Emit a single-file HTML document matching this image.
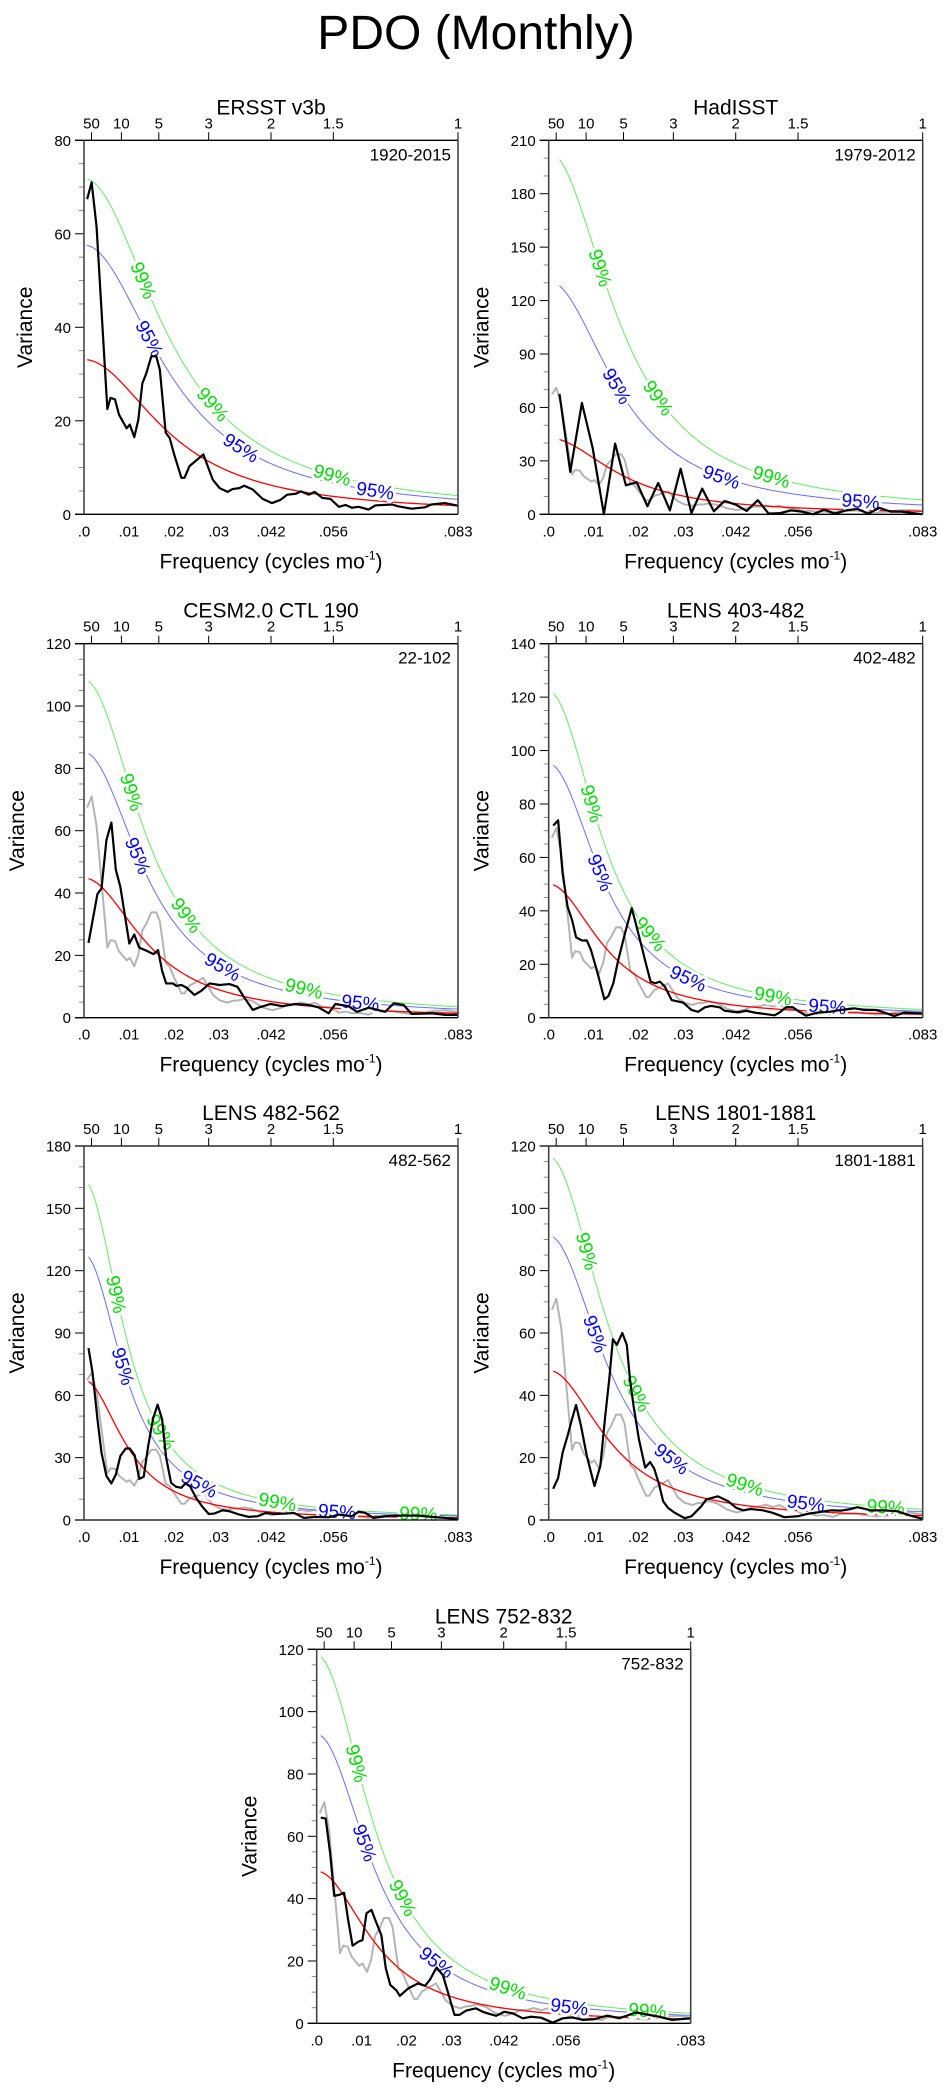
<!DOCTYPE html>
<html><head><meta charset="utf-8">
<style>
html,body{margin:0;padding:0;background:#fff;}
svg{display:block;font-family:"Liberation Sans",Arial,sans-serif;}
</style></head>
<body>
<svg id="fig" width="944" height="2091" viewBox="0 0 944 2091" xmlns="http://www.w3.org/2000/svg">
<rect width="944" height="2091" fill="#fff"/>
<text x="476" y="49" font-size="48" text-anchor="middle">PDO (Monthly)</text>
</svg>
<script>
// ---------- data ----------
const panelTitles = ["ERSST v3b","HadISST","CESM2.0 CTL 190","LENS 403-482","LENS 482-562","LENS 1801-1881","LENS 752-832"];
const panelRanges = ["1920-2015","1979-2012","22-102","402-482","482-562","1801-1881","752-832"];
const yMaxes = [80,210,120,140,180,120,120];
const yMajorSteps = [20,30,20,20,30,20,20];
const yMinorSteps = [5,10,5,5,10,5,5];
const xTickValues = [0,0.01,0.02,0.03,1/24,1/18,1/12];
const xTickLabels = [".0",".01",".02",".03",".042",".056",".083"];
const periodYears = [50,10,5,3,2,1.5,1];
const periodLabels = ["50","10","5","3","2","1.5","1"];
// red-noise (AR1) fit parameters
const redS0 = [33.1,42.8,44.8,50.0,67.3,48.0,48.8];
const redR = [0.882,0.900,0.910,0.920,0.938,0.914,0.917];
const sig95 = [1.74,3.06,1.90,1.90,1.90,1.90,1.90];
const sig99 = [2.17,4.75,2.42,2.44,2.42,2.43,2.42];
const lab99Freqs = [[0.0132,0.0287,0.0553],[0.0115,0.0244,0.0496],[0.0106,0.0228,0.049],[0.0096,0.0226,0.05],[0.0072,0.0172,0.0431,0.0745],[0.0085,0.0196,0.0437,0.0751],[0.0089,0.0192,0.0426,0.0737]];
const lab95Freqs = [[0.0146,0.035,0.0649],[0.0152,0.0385,0.0695],[0.012,0.0309,0.0616],[0.0115,0.0311,0.0621],[0.0087,0.0257,0.0564],[0.0104,0.0274,0.0573],[0.0107,0.0267,0.0563]];

const p1Freq = [.0007,.0017,.0028,.0052,.0059,.0069,.0078,.0095,.0102,.0112,.0121,.013,.0139,.015,.0161,.0169,.0182,.0191,.02,.0217,.0224,.0235,.0266,.0287,.0302,.032,.0331,.0346,.0357,.0376,.0398,.0419,.0438,.0453,.0472,.0483,.0501,.0514,.0531,.0549,.0568,.0583,.0597,.0612,.0634,.0649,.0686,.07,.073,.076,.0774,.0804,.0833];
const p1Var = [67.4,71,61.5,22.5,24.9,24.6,21.3,18.4,19.2,16.5,20.2,28,30.2,33.8,33.8,30.9,17.5,16.3,13.1,7.8,7.8,10.3,12.8,7.4,5.6,4.8,5.4,5.6,6.1,5.3,3.3,2.4,3.1,4.2,4.4,4.9,4.2,4.8,3.5,3.3,1.6,2.0,1.4,1.6,1.0,1.9,2.1,1.7,1.2,1.5,2.1,2.4,1.85];

const p2Freq = [.0024,.0048,.0074,.0098,.0123,.0148,.0172,.0196,.022,.0244,.027,.0294,.0318,.0342,.0368,.0392,.0417,.0441,.0466,.049,.0516,.054,.0564,.0589,.0614,.0638,.0663,.0688,.0712,.0737,.0762,.0786,.0811,.0833];
const p2Var = [67.6,23.8,62.5,37.2,0,39.7,16.3,18,4.5,17.6,2.2,25.6,0.7,14.4,1.7,7.5,5.4,1.9,7.9,0.4,0.7,2.2,1.5,0,2.6,0.4,2.2,3.0,0.4,3.6,1.5,1.5,0.7,0];

const p3Freq = [.001,.003,.0039,.005,.0061,.0071,.0081,.0101,.0112,.0123,.0139,.0155,.0165,.0174,.0183,.0198,.0206,.0217,.0228,.0246,.0261,.028,.0302,.0324,.0342,.0357,.0376,.039,.0416,.0442,.0471,.0501,.0523,.0545,.056,.059,.0608,.0634,.0671,.069,.0712,.073,.0775,.0805,.0833];
const p3Var = [24,39.7,41.5,57,62.6,47.4,42,23.8,26.7,22.5,21.5,20.4,21.7,15.1,11,11,10.2,10.5,9.7,7.3,8.6,11,10.5,10.8,9.9,6.5,2.5,3.3,4.4,3.7,4.4,4.1,3.3,1.4,4.4,3.7,1.9,3.2,1.9,4.6,4.1,1.2,1.4,0.9,0.9];

const p4Freq = [.001,.0021,.0031,.0042,.0052,.0061,.0074,.0085,.0094,.0107,.0124,.0133,.0144,.0155,.017,.0185,.0192,.0209,.0216,.0227,.0237,.0248,.0259,.0274,.0285,.03,.0318,.0333,.0348,.0362,.0381,.0392,.0422,.044,.0459,.0481,.0503,.0514,.0529,.0544,.0555,.0573,.06,.0625,.0651,.0681,.0703,.0729,.0747,.077,.0792,.0833];
const p4Var = [71.9,73.9,54,41.6,36.6,30.1,28.9,28.9,25.4,17.9,6.9,8.1,12.9,21.6,31.6,41,36.6,25.4,20.6,13.5,12.9,13.5,11.6,6.6,6.2,5.6,2.9,2.2,3.9,4.4,3.9,2.6,2.0,2.6,1.9,1.4,0.9,1.9,3.9,3.9,2.6,0.75,1.9,2.2,2.9,3.5,2.9,2.9,2.0,0.6,1.9,1.6];

const p5Freq = [.001,.0019,.003,.0039,.005,.0061,.0071,.0081,.0093,.0102,.0113,.0123,.0133,.0143,.0154,.0164,.0174,.0183,.0194,.0205,.0217,.0226,.0236,.025,.0263,.0278,.029,.0309,.0324,.0346,.0367,.0387,.0405,.0424,.0449,.0468,.049,.0516,.0545,.0568,.0597,.0612,.0627,.0645,.0671,.0701,.0745,.0775,.0833];
const p5Var = [82.7,71,48.5,32.4,21.1,17.6,21.9,30.8,34.4,34.4,31.1,19.8,20.8,35.6,48.9,55.5,48.5,30,17.9,16,15.5,17.6,16.3,10.6,6.6,2.9,3.1,4.7,4.2,2.6,1.5,1.8,3.4,2.9,3.1,3.4,1.0,1.5,1.3,2.6,1.8,4.0,3.4,1.0,1.8,2.1,2.1,1.5,0.5];

const p6Freq = [.001,.0021,.0031,.0042,.0052,.0061,.0072,.0085,.0102,.0115,.0126,.0135,.0143,.0152,.0164,.0174,.0181,.0189,.0201,.0215,.0226,.0235,.0246,.0255,.0266,.0281,.0303,.0318,.034,.0351,.0377,.04,.0418,.0433,.0451,.0477,.0499,.0525,.0555,.0577,.0607,.0629,.0651,.0673,.0688,.0718,.0747,.0777,.0806,.0833];
const p6Var = [10,13.5,21.6,27,32.4,36.9,30.2,20.5,10.9,17.3,33.4,45.3,58,56.2,60,56.2,45.3,36.7,25.9,16.8,18.6,16.5,11.4,6,3.9,2.3,0.6,1.2,4.4,6.6,7.6,6,3.9,3.1,3.5,3.1,2.3,0.9,1.2,2.0,2.6,3.1,3.0,3.5,4.1,3.1,3.1,2.8,1.4,0.4];

const p7Freq = [.0009,.002,.003,.0039,.005,.0061,.007,.008,.0093,.0102,.0111,.0122,.0132,.0144,.0154,.0164,.0178,.0185,.0204,.0226,.0241,.0252,.0267,.0281,.0292,.0307,.0318,.0333,.0355,.037,.0385,.04,.0418,.0437,.0459,.0478,.05,.0526,.0548,.057,.0592,.0618,.0648,.0674,.0696,.0711,.0733,.0763,.0792,.0833];
const p7Var = [66,65.7,54.5,40.9,41.2,41.9,33.2,24.9,26.2,26.7,35.3,36.4,32.6,28.3,17.6,12.3,10.5,8.8,11.2,12.8,12,13.9,17.9,15.5,10.2,2.7,2.7,4.1,4.8,3.7,3.0,2.4,3.7,3.2,1.6,2.1,1.8,0.2,1.6,1.9,1.1,1.3,2.5,1.6,2.7,3.5,2.9,2.1,1.1,1.6];

const seriesFreq = [p1Freq,p2Freq,p3Freq,p4Freq,p5Freq,p6Freq,p7Freq];
const seriesVar = [p1Var,p2Var,p3Var,p4Var,p5Var,p6Var,p7Var];
const showGray = [false,true,true,true,true,true,true];

// ---------- layout ----------
const PW = 374, PH = 374, FMAX = 1/12;
const panelLeft = [84,548.7,84,548.7,84,548.7,316.7];
const panelTop = [140.3,140.3,643.7,643.7,1146,1146,1649.3];

const NS = "http://www.w3.org/2000/svg";
const svg = document.getElementById('fig');
function mk(tag, attrs, parent){
  const e = document.createElementNS(NS, tag);
  for (const k in attrs) e.setAttribute(k, attrs[k]);
  (parent||svg).appendChild(e);
  return e;
}
function redNoise(i, f){
  const r = redR[i];
  return redS0[i]*(1-r)*(1-r)/(1 - 2*r*Math.cos(2*Math.PI*f) + r*r);
}

function drawPanel(i){
  const L = panelLeft[i], T = panelTop[i], B = T+PH, R = L+PW;
  const ymax = yMaxes[i];
  const xs = f => L + f/FMAX*PW;
  const ys = v => B - v/ymax*PH;
  const g = mk('g', {});
  
  

  const cp = mk('clipPath', {id:'clip'+i}, g);
  mk('rect', {x:L, y:T, width:PW, height:PH}, cp);

  // titles
  const tt = mk('text', {x:L+PW/2, y:T-26, 'font-size':21, 'text-anchor':'middle'}, g);
  tt.textContent = panelTitles[i];
  
  
  const rt = mk('text', {x:R-7, y:T+20, 'font-size':17, 'text-anchor':'end'}, g);
  rt.textContent = panelRanges[i];
  
  

  // y ticks
  for (let v=0; v<=ymax+1e-9; v+=yMinorSteps[i]){
    const major = Math.abs(v/yMajorSteps[i] - Math.round(v/yMajorSteps[i]))<1e-6;
    const t = mk('line', {x1:L-(major?9:5), x2:L, y1:ys(v), y2:ys(v), stroke:major?'#000':'#888', 'stroke-width':1}, g);
    
    
    if (major){
      const tl = mk('text', {x:L-13, y:ys(v)+5.5, 'font-size':15, 'text-anchor':'end'}, g);
      tl.textContent = String(Math.round(v));
      
      
    }
  }
  // x tick labels
  xTickValues.forEach((f,k)=>{
    const tl = mk('text', {x:xs(f), y:B+22, 'font-size':15, 'text-anchor':'middle'}, g);
    tl.textContent = xTickLabels[k];
    
    
  });
  // top period ticks
  periodYears.forEach((p,k)=>{
    const f = 1/(12*p);
    const t = mk('line', {x1:xs(f), x2:xs(f), y1:T-8, y2:T, stroke:'#000', 'stroke-width':1}, g);
    
    
    const tl = mk('text', {x:xs(f), y:T-12, 'font-size':15, 'text-anchor':'middle'}, g);
    tl.textContent = periodLabels[k];
    
    
  });
  // axis titles
  const xt = mk('text', {x:L+PW/2, y:B+54, 'font-size':21, 'text-anchor':'middle'}, g);
  xt.innerHTML = 'Frequency (cycles mo<tspan font-size="12" dy="-9">-1</tspan><tspan dy="9">)</tspan>';
  
  
  const off = ymax>=100 ? 67 : 59;
  const yt = mk('text', {x:L-off+7, y:T+PH/2, 'font-size':21, 'text-anchor':'middle', transform:'rotate(-90 '+(L-off+7)+' '+(T+PH/2)+')'}, g);
  yt.textContent = 'Variance';
  
  

  const cg = mk('g', {'clip-path':'url(#clip'+i+')'}, g);
  // gray reference (ERSST)
  if (showGray[i]){
    const d = p1Freq.map((f,k)=>(k?'L':'M')+xs(f).toFixed(2)+','+ys(p1Var[k]).toFixed(2)).join('');
    const gp = mk('path', {d:d, fill:'none', stroke:'#b4b4b4', 'stroke-width':2, 'stroke-linejoin':'round'}, cg);
    
    
  }
  // red noise and confidence curves
  const f0 = seriesFreq[i][0];
  const curve = (fac)=>{
    let d = '';
    for (let n=0; n<=200; n++){
      const f = f0 + (FMAX-f0)*n/200;
      d += (n?'L':'M') + xs(f).toFixed(2) + ',' + ys(redNoise(i,f)*fac).toFixed(2);
    }
    return d;
  };
  const rp = mk('path', {d:curve(1), fill:'none', stroke:'#ff0000', 'stroke-width':1.3}, cg);
  
  
  const bp = mk('path', {d:curve(sig95[i]), fill:'none', stroke:'#6a6aff', 'stroke-width':1}, cg);
  
  
  const gp2 = mk('path', {d:curve(sig99[i]), fill:'none', stroke:'#5ef05e', 'stroke-width':1}, cg);
  
  

  const addLabel = (f, fac, txt, col, nm)=>{
    const x1 = xs(f-0.0008), y1 = ys(redNoise(i,f-0.0008)*fac);
    const x2 = xs(f+0.0008), y2 = ys(redNoise(i,f+0.0008)*fac);
    const ang = Math.atan2(y2-y1, x2-x1)*180/Math.PI;
    const cx = xs(f), cy = ys(redNoise(i,f)*fac);
    const t = mk('text', {x:cx, y:cy+6.5, 'font-size':19, 'text-anchor':'middle', fill:col,
      stroke:'#fff', 'stroke-width':6, 'paint-order':'stroke', 'stroke-linejoin':'round',
      transform:'rotate('+ang.toFixed(2)+' '+cx.toFixed(2)+' '+cy.toFixed(2)+')'}, g);
    t.textContent = txt;
    
    
  };
  lab99Freqs[i].forEach(f=>addLabel(f, sig99[i], '99%', '#00e000', 'label-99-percent'));
  lab95Freqs[i].forEach(f=>addLabel(f, sig95[i], '95%', '#0000ff', 'label-95-percent'));

  // main spectrum
  const fr = seriesFreq[i], vv = seriesVar[i];
  const d = fr.map((f,k)=>(k?'L':'M')+xs(f).toFixed(2)+','+ys(vv[k]).toFixed(2)).join('');
  const kp = mk('path', {d:d, fill:'none', stroke:'#000', 'stroke-width':2.2, 'stroke-linejoin':'round'}, g);
  
  

  // frame
  const fr1 = mk('line', {x1:L-9, x2:R, y1:T, y2:T, stroke:'#000', 'stroke-width':1.3}, g);
  
  
  const fr2 = mk('line', {x1:L-9, x2:R, y1:B, y2:B, stroke:'#000', 'stroke-width':1.3}, g);
  
  
  const fr3 = mk('line', {x1:L, x2:L, y1:T, y2:B, stroke:'#444', 'stroke-width':1.6}, g);
  
  
  const fr4 = mk('line', {x1:R, x2:R, y1:T, y2:B, stroke:'#444', 'stroke-width':1.6}, g);
  
  
}
for (let i=0;i<7;i++) drawPanel(i);
</script>
</body></html>
